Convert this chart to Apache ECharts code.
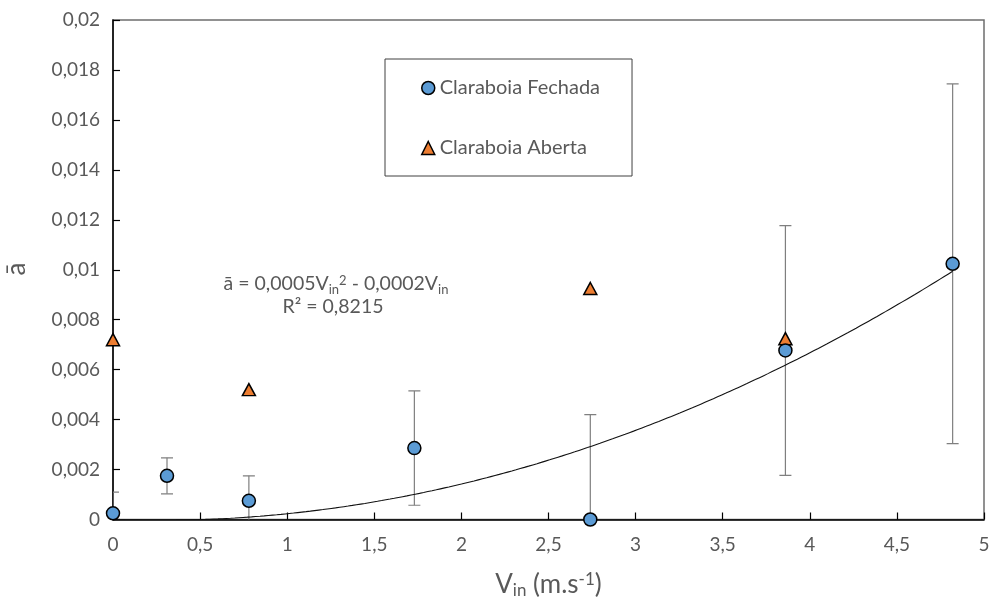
<!DOCTYPE html>
<html>
<head>
<meta charset="utf-8">
<script src="https://cdn.jsdelivr.net/npm/echarts@6/dist/echarts.min.js"></script>
<style>
  html, body { margin: 0; padding: 0; background: #fff; }
  #chart { width: 989px; height: 600px; }
</style>
</head>
<body>
<div id="chart"></div>
<script>
// Claraboia fechada: velocidade de entrada, aceleração média e desvio
const vFechada = [0, 0.31, 0.78, 1.73, 2.74, 3.86, 4.82];
const aFechada = [0.00025, 0.00175, 0.00075, 0.00286, 0, 0.00677, 0.01024];
const desvioFechada = [0.00085, 0.00072, 0.001, 0.00229, 0.0042, 0.005, 0.0072];

// Claraboia aberta
const vAberta = [0, 0.78, 2.74, 3.86];
const aAberta = [0.0072, 0.0052, 0.00925, 0.00724];

const seriesNames = ['Claraboia Fechada', 'Claraboia Aberta'];

const FONT = 'Lato';
const TEXT = '#595959';

// Comma decimal separator for tick labels
function fmt(v) {
  return String(parseFloat(v.toFixed(4))).replace('.', ',');
}

// Polynomial trendline y = a·x² + b·x (through origin), least squares on the closed-skylight data
function fitQuadraticNoIntercept(xs, ys) {
  let s2 = 0, s3 = 0, s4 = 0, sxy = 0, sx2y = 0;
  for (let i = 0; i < xs.length; i++) {
    const x = xs[i], y = ys[i];
    s2 += x * x; s3 += x * x * x; s4 += x * x * x * x;
    sxy += x * y; sx2y += x * x * y;
  }
  const det = s4 * s2 - s3 * s3;
  return { a: (sx2y * s2 - s3 * sxy) / det, b: (s4 * sxy - s3 * sx2y) / det };
}
const fit = fitQuadraticNoIntercept(vFechada, aFechada);
const xMin = Math.min(...vFechada), xMax = Math.max(...vFechada);
const trendData = [];
for (let i = 0; i <= 200; i++) {
  const x = xMin + (xMax - xMin) * i / 200;
  trendData.push([x, fit.a * x * x + fit.b * x]);
}

const errorData = vFechada.map((x, i) => [x, aFechada[i] - desvioFechada[i], aFechada[i] + desvioFechada[i]]);

const chart = echarts.init(document.getElementById('chart'), null, { renderer: 'canvas' });

chart.setOption({
  animation: false,
  backgroundColor: '#fff',
  textStyle: { fontFamily: FONT },
  grid: {
    left: 113, right: 5, top: 20, bottom: 80.5,
    show: true, borderColor: '#6d6d6d', borderWidth: 1.5,
    outerBoundsMode: 'none'
  },
  legend: {
    data: seriesNames,
    orient: 'vertical',
    left: 385, top: 59,
    padding: [19, 32, 18, 36],
    itemGap: 40,
    itemWidth: 13, itemHeight: 13,
    borderColor: '#404040', borderWidth: 1,
    backgroundColor: '#fff',
    itemStyle: { borderWidth: 1.5 },
    textStyle: { color: TEXT, fontSize: 20, fontFamily: FONT, lineHeight: 20, width: 160 }
  },
  xAxis: {
    type: 'value', min: 0, max: 5, interval: 0.5,
    axisLine: { lineStyle: { color: '#000', width: 1.5 } },
    axisTick: { show: true, inside: true, length: 7, lineStyle: { color: '#000', width: 1.2 } },
    splitLine: { show: false },
    axisLabel: { color: TEXT, fontSize: 19, fontFamily: FONT, margin: 16, formatter: fmt },
    name: '{v|V}{sub|in}{v| (m.s}{sup|-1}{v|)}',
    nameLocation: 'middle', nameGap: 52,
    nameTextStyle: {
      color: TEXT, fontFamily: FONT,
      rich: {
        v: { fontSize: 26, lineHeight: 28, padding: [0, 0, 5, 0], verticalAlign: 'top', color: TEXT, fontFamily: FONT },
        sub: { fontSize: 17, lineHeight: 17, verticalAlign: 'bottom', color: TEXT, fontFamily: FONT },
        sup: { fontSize: 17, lineHeight: 17, verticalAlign: 'top', color: TEXT, fontFamily: FONT }
      }
    }
  },
  yAxis: {
    type: 'value', min: 0, max: 0.02, interval: 0.002,
    axisLine: { show: true, lineStyle: { color: '#000', width: 1.5 } },
    axisTick: { show: true, inside: true, length: 7, lineStyle: { color: '#000', width: 1.2 } },
    splitLine: { show: false },
    axisLabel: { color: TEXT, fontSize: 19, fontFamily: FONT, margin: 13, formatter: fmt }
  },
  graphic: [
    {
      // y-axis title, reading bottom to top
      type: 'text', z: 100,
      x: 17, y: 269, rotation: Math.PI / 2,
      style: {
        text: 'ā', align: 'center', verticalAlign: 'middle',
        fontSize: 26, fill: TEXT, fontFamily: FONT
      }
    },
    {
      type: 'text', z: 100,
      x: 336, y: 285,
      style: {
        text: '{t|ā = 0,0005V}{s|in}{p|2}{t| - 0,0002V}{s|in}',
        align: 'center', verticalAlign: 'middle',
        rich: {
          t: { fontSize: 19.5, lineHeight: 22, padding: [0, 0, 4, 0], verticalAlign: 'top', fill: TEXT, fontFamily: FONT },
          s: { fontSize: 13, lineHeight: 13, verticalAlign: 'bottom', fill: TEXT, fontFamily: FONT },
          p: { fontSize: 13, lineHeight: 13, verticalAlign: 'top', fill: TEXT, fontFamily: FONT }
        }
      }
    },
    {
      type: 'text', z: 100,
      x: 333, y: 307,
      style: {
        text: 'R² = 0,8215', align: 'center', verticalAlign: 'middle',
        fontSize: 19.5, fill: TEXT, fontFamily: FONT
      }
    }
  ],
  series: [
    {
      name: 'desvio',
      type: 'custom',
      clip: true,
      z: 1,
      data: errorData,
      renderItem: function (params, api) {
        const x = api.value(0);
        const lo = api.coord([x, api.value(1)]);
        const hi = api.coord([x, api.value(2)]);
        const cap = 6;
        const style = { stroke: '#7f7f7f', lineWidth: 1.2 };
        return {
          type: 'group',
          children: [
            { type: 'line', shape: { x1: lo[0], y1: lo[1], x2: hi[0], y2: hi[1] }, style: style },
            { type: 'line', shape: { x1: hi[0] - cap, y1: hi[1], x2: hi[0] + cap, y2: hi[1] }, style: style },
            { type: 'line', shape: { x1: lo[0] - cap, y1: lo[1], x2: lo[0] + cap, y2: lo[1] }, style: style }
          ]
        };
      }
    },
    {
      name: 'tendência',
      type: 'line',
      z: 2,
      showSymbol: false,
      silent: true,
      clip: true,
      data: trendData,
      lineStyle: { color: '#111', width: 1.1 }
    },
    {
      name: seriesNames[1],
      type: 'scatter',
      z: 3,
      symbol: 'triangle',
      symbolSize: [13, 12],
      clip: false,
      data: vAberta.map((x, i) => [x, aAberta[i]]),
      itemStyle: { color: '#ED7D31', borderColor: '#000', borderWidth: 1.5, opacity: 1 }
    },
    {
      name: seriesNames[0],
      type: 'scatter',
      z: 4,
      symbol: 'circle',
      symbolSize: 13,
      clip: false,
      data: vFechada.map((x, i) => [x, aFechada[i]]),
      itemStyle: { color: '#5B9BD5', borderColor: '#000', borderWidth: 1.5, opacity: 1 }
    }
  ]
});
</script>
</body>
</html>
